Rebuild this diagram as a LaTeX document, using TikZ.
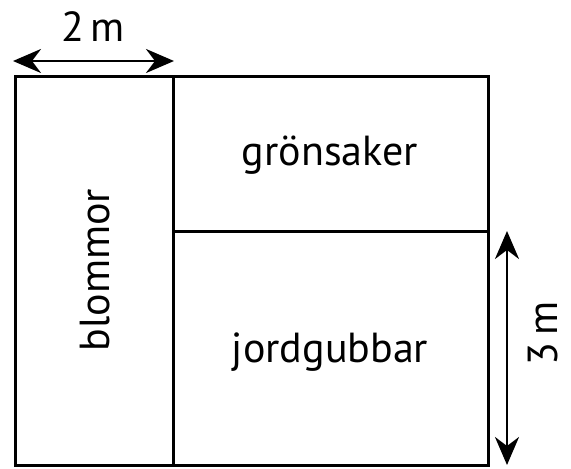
\documentclass[tikz,border=0pt]{standalone}
\usepackage{fontspec}
\setmainfont{PT Sans}
\usetikzlibrary{arrows.meta}
\begin{document}
\begin{tikzpicture}[x=1pt,y=-1pt,
  bed/.style={draw=black,line width=3pt},
  dim/.style={line width=2.8pt,{Stealth[length=28pt,width=24pt,inset=9pt]}-{Stealth[length=28pt,width=24pt,inset=9pt]}},
  lbl/.style={font=\fontsize{42}{50}\selectfont,inner sep=0pt}]
\useasboundingbox (0,0) rectangle (571,469);
\coordinate (tl) at (15,76);
\coordinate (br) at (488,465);
\coordinate (mt) at (173,76);
\coordinate (mb) at (173,465);
\coordinate (hl) at (173,231);
\coordinate (hr) at (488,231);
\draw[bed] (tl) rectangle (br);
\draw[bed] (mt) -- (mb);
\draw[bed] (hl) -- (hr);
\coordinate (a1) at (13,61);
\coordinate (a2) at (174,61);
\draw[dim] (a1) -- (a2);
\coordinate (b1) at (507,231);
\coordinate (b2) at (507,465);
\draw[dim] (b1) -- (b2);
\node[lbl] (l2m) at (93,27) {2\,m};
\node[lbl,rotate=90] (l3m) at (543,333) {3\,m};
\node[lbl] (gron) at (330,155) {grönsaker};
\node[lbl] (jord) at (330,352) {jordgubbar};
\node[lbl,rotate=90] (blom) at (95,270) {blommor};
\end{tikzpicture}
\end{document}
